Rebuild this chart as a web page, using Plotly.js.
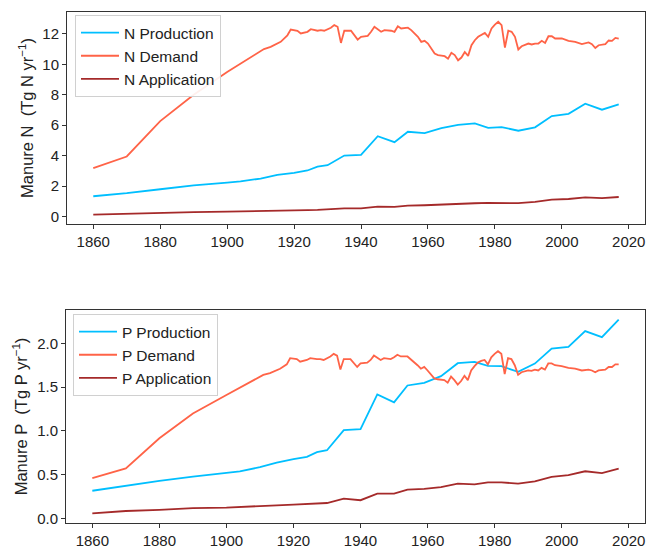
<!DOCTYPE html>
<html>
<head>
<meta charset="utf-8">
<script src="https://cdn.plot.ly/plotly-3.0.1.min.js"></script>
<style>html,body{margin:0;padding:0;background:#fff;}#chart{width:647px;height:546px;}</style>
</head>
<body>
<div id="chart"></div>
<script>
// Production / application sample years
const prodYears = [1860,1870,1880,1890,1900,1904,1910,1915,1920,1924,1927,1930,1935,1940,1945,1950,1954,1959,1964,1969,1974,1978,1982,1987,1992,1997,2002,2007,2012,2017];
const nProduction = [1.34,1.54,1.80,2.06,2.24,2.32,2.50,2.74,2.88,3.03,3.28,3.38,4.01,4.06,5.28,4.89,5.57,5.48,5.81,6.03,6.12,5.83,5.88,5.64,5.86,6.60,6.75,7.41,7.02,7.37];
const nApplication = [0.13,0.20,0.25,0.30,0.33,0.34,0.37,0.38,0.40,0.43,0.45,0.48,0.55,0.55,0.66,0.65,0.72,0.75,0.80,0.87,0.88,0.90,0.90,0.89,0.97,1.12,1.16,1.27,1.22,1.29];
const pProduction = [0.318,0.375,0.43,0.48,0.527,0.54,0.587,0.64,0.678,0.705,0.758,0.78,1.01,1.02,1.417,1.326,1.519,1.549,1.625,1.773,1.788,1.742,1.739,1.674,1.769,1.939,1.958,2.14,2.07,2.27];
const pApplication = [0.06,0.087,0.10,0.12,0.125,0.13,0.144,0.152,0.16,0.167,0.172,0.178,0.227,0.21,0.284,0.284,0.33,0.34,0.36,0.40,0.39,0.413,0.413,0.40,0.424,0.477,0.496,0.54,0.52,0.57];

// Demand years
const demandYears = [1860,1870,1880,1890,1900,1911,1913,1915,1916,1918,1919,1921,1922,1924,1925,1927,1928,1929,1931,1932,1933,1934,1935,1937,1939,1940,1942,1943,1944,1946,1947,1949,1950,1951,1952,1954,1955,1957,1958,1959,1960,1962,1963,1965,1966,1967,1968,1969,1970,1971,1972,1973,1974,1975,1976,1977,1978,1979,1980,1981,1982,1983,1984,1985,1986,1987,1988,1990,1991,1992,1993,1994,1995,1996,1997,1998,2000,2002,2004,2006,2008,2009,2010,2011,2013,2014,2015,2016,2017];
const nDemand = [3.18,3.95,6.27,8.0,9.5,11.0,11.14,11.36,11.47,11.9,12.28,12.2,12.02,12.13,12.3,12.2,12.24,12.2,12.4,12.57,12.46,11.4,12.2,12.2,11.62,11.8,11.86,12.13,12.46,12.13,12.24,12.2,12.13,12.5,12.35,12.4,12.24,11.8,11.47,11.54,11.36,10.7,10.6,10.53,10.37,10.75,10.6,10.26,10.44,10.81,10.55,11.25,11.58,11.8,11.91,12.06,11.8,12.35,12.6,12.79,12.57,11.1,12.2,12.13,11.8,10.97,11.18,11.36,11.3,11.36,11.36,11.54,11.4,11.84,11.84,11.69,11.69,11.54,11.47,11.32,11.43,11.32,11.07,11.25,11.32,11.56,11.54,11.73,11.69];
const pDemand = [0.462,0.572,0.917,1.20,1.41,1.64,1.66,1.69,1.71,1.76,1.83,1.82,1.79,1.81,1.83,1.82,1.82,1.81,1.85,1.88,1.86,1.70,1.82,1.82,1.73,1.77,1.78,1.81,1.86,1.81,1.83,1.82,1.84,1.87,1.85,1.85,1.82,1.75,1.71,1.73,1.69,1.60,1.59,1.58,1.55,1.62,1.58,1.53,1.57,1.63,1.58,1.69,1.74,1.78,1.80,1.81,1.76,1.84,1.88,1.91,1.88,1.65,1.83,1.82,1.75,1.64,1.67,1.69,1.685,1.70,1.69,1.72,1.70,1.77,1.77,1.75,1.74,1.72,1.71,1.69,1.70,1.69,1.67,1.69,1.70,1.73,1.73,1.76,1.76];

const xTicks = [1860,1880,1900,1920,1940,1960,1980,2000,2020];
const nTicks = [0,2,4,6,8,10,12];
const pTicks = [0,0.5,1.0,1.5,2.0];

const BLUE = '#00BFFF', TOMATO = '#FF6347', BROWN = '#A52A2A';
const LW = 1.8;

const traces = [
  {x: prodYears, y: nProduction, name: 'N Production', mode: 'lines', line: {color: BLUE, width: LW}, xaxis: 'x', yaxis: 'y', legend: 'legend'},
  {x: demandYears, y: nDemand, name: 'N Demand', mode: 'lines', line: {color: TOMATO, width: LW}, xaxis: 'x', yaxis: 'y', legend: 'legend'},
  {x: prodYears, y: nApplication, name: 'N Application', mode: 'lines', line: {color: BROWN, width: LW}, xaxis: 'x', yaxis: 'y', legend: 'legend'},
  {x: prodYears, y: pProduction, name: 'P Production', mode: 'lines', line: {color: BLUE, width: LW}, xaxis: 'x2', yaxis: 'y2', legend: 'legend2'},
  {x: demandYears, y: pDemand, name: 'P Demand', mode: 'lines', line: {color: TOMATO, width: LW}, xaxis: 'x2', yaxis: 'y2', legend: 'legend2'},
  {x: prodYears, y: pApplication, name: 'P Application', mode: 'lines', line: {color: BROWN, width: LW}, xaxis: 'x2', yaxis: 'y2', legend: 'legend2'}
];

const W = 647, H = 546;
const axCommon = {
  showline: true, mirror: true, linecolor: '#333', linewidth: 1,
  ticks: 'outside', ticklen: 4, tickwidth: 1, tickcolor: '#333',
  showgrid: false, zeroline: false,
  tickfont: {size: 15, color: '#222'}
};
const legCommon = {
  bgcolor: 'rgba(255,255,255,0.9)', bordercolor: '#d0d0d0', borderwidth: 1,
  font: {size: 15.5, color: '#222'}, xanchor: 'left', yanchor: 'top',
  tracegroupgap: 0, itemwidth: 38
};

const layout = {
  width: W, height: H,
  margin: {l: 0, r: 0, t: 0, b: 0},
  paper_bgcolor: '#fff', plot_bgcolor: '#fff',
  font: {family: '"Liberation Sans", Arial, sans-serif', size: 15, color: '#222'},
  showlegend: true,
  xaxis: Object.assign({}, axCommon, {domain: [67/W, 645/W], range: [1852.15, 2024.85], tickvals: xTicks, anchor: 'y'}),
  yaxis: Object.assign({}, axCommon, {domain: [1 - 224/H, 1 - 12/H], range: [-0.48, 13.43], tickvals: nTicks, anchor: 'x',
    title: {text: 'Manure N\u00A0\u00A0(Tg N yr<sup>\u22121</sup>)', font: {size: 16.5}, standoff: 4}}),
  xaxis2: Object.assign({}, axCommon, {domain: [66/W, 645/W], range: [1852.15, 2024.85], tickvals: xTicks, anchor: 'y2'}),
  yaxis2: Object.assign({}, axCommon, {domain: [1 - 523/H, 1 - 310/H], range: [-0.05, 2.38], tickvals: pTicks, tickformat: '.1f', anchor: 'x2',
    title: {text: 'Manure P\u00A0\u00A0(Tg P yr<sup>\u22121</sup>)', font: {size: 16.5}, standoff: 5}}),
  legend: Object.assign({}, legCommon, {x: 75/W, y: 1 - 15/H}),
  legend2: Object.assign({}, legCommon, {x: 73/W, y: 1 - 314/H})
};

Plotly.newPlot('chart', traces, layout, {displayModeBar: false, staticPlot: true});
</script>
</body>
</html>
